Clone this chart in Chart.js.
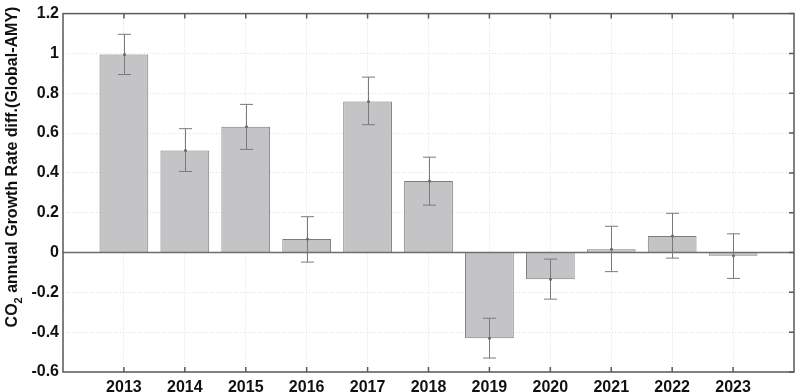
<!DOCTYPE html>
<html>
<head>
<meta charset="utf-8">
<script src="https://cdn.jsdelivr.net/npm/chart.js@4"></script>
<style>
  html, body { margin: 0; padding: 0; background: #fff; }
  #wrap { width: 800px; height: 392px; }
</style>
</head>
<body>
<div id="wrap"><canvas id="growthChart"></canvas></div>
<script>
const years = [2013, 2014, 2015, 2016, 2017, 2018, 2019, 2020, 2021, 2022, 2023];
const growthDiff = [0.995, 0.513, 0.632, 0.068, 0.759, 0.359, -0.431, -0.134, 0.017, 0.083, -0.016];
const errLow  = [0.894, 0.407, 0.518, -0.048, 0.642, 0.238, -0.530, -0.234, -0.096, -0.028, -0.130];
const errHigh = [1.096, 0.622, 0.744, 0.180, 0.881, 0.479, -0.330, -0.033, 0.132, 0.197, 0.094];
const yTicks = [-0.6, -0.4, -0.2, 0, 0.2, 0.4, 0.6, 0.8, 1, 1.2];

const fontFam = "'Liberation Sans', Arial, Helvetica, sans-serif";

// error bars, centre dots, zero line, frame and inward ticks
const decorations = {
    id: 'decorations',
    afterDatasetsDraw(chart) {
        const ctx = chart.ctx;
        const xs = chart.scales.x, ys = chart.scales.y;
        const area = chart.chartArea;
        ctx.save();

        // zero line
        ctx.strokeStyle = '#6e6e6e';
        ctx.lineWidth = 1.5;
        ctx.beginPath();
        ctx.moveTo(area.left, ys.getPixelForValue(0));
        ctx.lineTo(area.right, ys.getPixelForValue(0));
        ctx.stroke();

        // error bars
        ctx.strokeStyle = '#7a7a7a';
        ctx.lineWidth = 1;
        years.forEach((yr, i) => {
            const x = Math.round(xs.getPixelForValue(yr)) + 0.5;
            const lo = ys.getPixelForValue(errLow[i]);
            const hi = ys.getPixelForValue(errHigh[i]);
            ctx.beginPath();
            ctx.moveTo(x, lo); ctx.lineTo(x, hi);
            ctx.moveTo(x - 6.5, lo); ctx.lineTo(x + 6.5, lo);
            ctx.moveTo(x - 6.5, hi); ctx.lineTo(x + 6.5, hi);
            ctx.stroke();
            ctx.fillStyle = '#6a6a6a';
            ctx.beginPath();
            ctx.arc(x, ys.getPixelForValue(growthDiff[i]), 1.5, 0, Math.PI * 2);
            ctx.fill();
        });

        // frame
        ctx.strokeStyle = '#5a5a5a';
        ctx.lineWidth = 1.5;
        ctx.strokeRect(area.left, area.top, area.right - area.left, area.bottom - area.top);

        // inward ticks
        ctx.beginPath();
        years.forEach(yr => {
            const x = xs.getPixelForValue(yr);
            ctx.moveTo(x, area.top); ctx.lineTo(x, area.top + 5);
            ctx.moveTo(x, area.bottom); ctx.lineTo(x, area.bottom - 5);
        });
        yTicks.forEach(v => {
            const y = ys.getPixelForValue(v);
            ctx.moveTo(area.right, y); ctx.lineTo(area.right - 5, y);
        });
        ctx.stroke();

        // y axis title with subscript
        ctx.translate(13, 167);
        ctx.rotate(-Math.PI / 2);
        ctx.fillStyle = '#111';
        ctx.textBaseline = 'middle';
        ctx.textAlign = 'left';
        const big = 'bold 16px ' + fontFam, small = 'bold 11px ' + fontFam;
        const p1 = 'CO', p2 = '2', p3 = ' annual Growth Rate diff.(Global-AMY)';
        ctx.font = big; const w1 = ctx.measureText(p1).width, w3 = ctx.measureText(p3).width;
        ctx.font = small; const w2 = ctx.measureText(p2).width;
        const x0 = -(w1 + w2 + w3) / 2;
        ctx.font = big; ctx.fillText(p1, x0, 0);
        ctx.font = small; ctx.fillText(p2, x0 + w1, 6);
        ctx.font = big; ctx.fillText(p3, x0 + w1 + w2, 0);

        ctx.restore();
    }
};

const ctx1 = document.getElementById('growthChart').getContext('2d');
const growthChart = new Chart(ctx1, {
    type: 'bar',
    data: {
        datasets: [{
            data: years.map((yr, i) => ({ x: yr, y: growthDiff[i] })),
            backgroundColor: '#c4c4c6',
            borderColor: '#7c7c7c',
            borderWidth: 1,
            barPercentage: 0.8,
            categoryPercentage: 1
        }]
    },
    options: {
        responsive: true,
        maintainAspectRatio: false,
        animation: false,
        layout: { padding: { left: 0, top: 9, right: 2, bottom: 0 } },
        plugins: { legend: { display: false }, tooltip: { enabled: false } },
        scales: {
            x: {
                type: 'linear',
                min: 2012,
                max: 2024,
                offset: false,
                grid: { offset: false, color: '#dedede', drawTicks: false },
                border: { display: false, dash: [1, 2] },
                ticks: {
                    stepSize: 1,
                    padding: 6,
                    color: '#111',
                    font: { family: fontFam, size: 16, weight: 'bold' },
                    callback: v => (v === 2012 || v === 2024) ? '' : String(v)
                },
                afterFit: s => { s.height = 20; }
            },
            y: {
                min: -0.6,
                max: 1.2,
                grid: { color: '#dedede', drawTicks: false },
                border: { display: false, dash: [1, 2] },
                ticks: {
                    stepSize: 0.2,
                    padding: 4,
                    color: '#111',
                    font: { family: fontFam, size: 16, weight: 'bold' },
                    callback: v => String(Number(v.toFixed(1)))
                },
                afterFit: s => { s.width = 63; }
            }
        }
    },
    plugins: [decorations]
});
</script>
</body>
</html>
